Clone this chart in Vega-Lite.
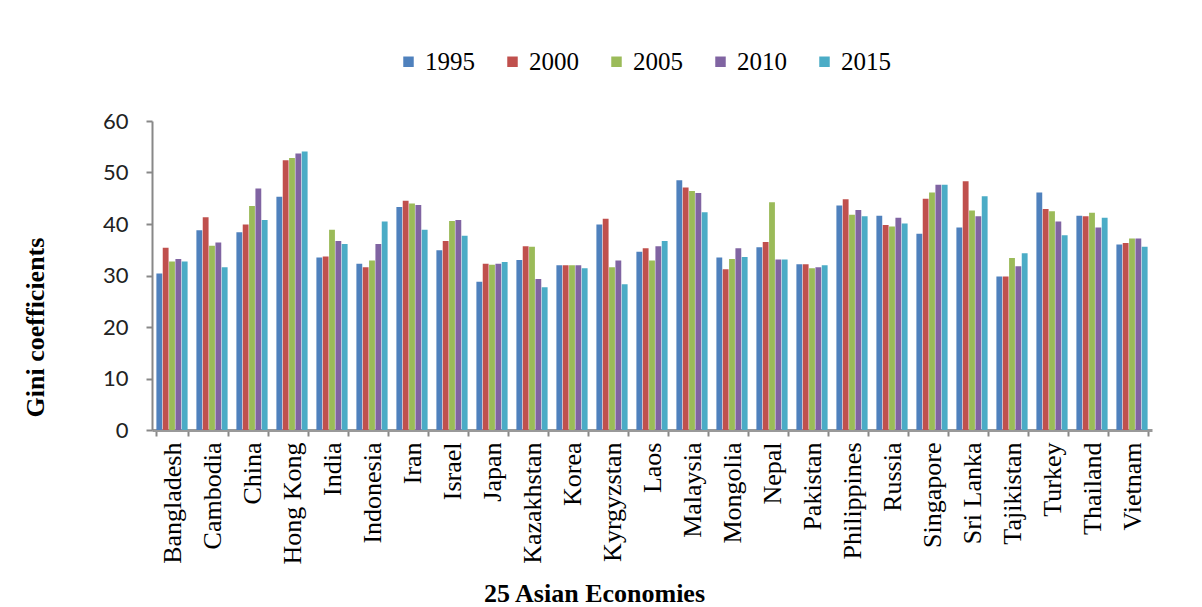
{
  "$schema": "https://vega.github.io/schema/vega-lite/v6.json",
  "width": 1000,
  "height": 309,
  "autosize": {"type": "none"},
  "padding": {"left": 152, "top": 121, "right": 50, "bottom": 177},
  "background": "white",
  "config": {"view": {"stroke": null}},
  "data": {"values": [
    {"country":"Bangladesh","year":"1995","gini":30.4},{"country":"Bangladesh","year":"2000","gini":35.4},{"country":"Bangladesh","year":"2005","gini":32.7},{"country":"Bangladesh","year":"2010","gini":33.2},{"country":"Bangladesh","year":"2015","gini":32.7},
    {"country":"Cambodia","year":"1995","gini":38.8},{"country":"Cambodia","year":"2000","gini":41.3},{"country":"Cambodia","year":"2005","gini":35.8},{"country":"Cambodia","year":"2010","gini":36.4},{"country":"Cambodia","year":"2015","gini":31.6},
    {"country":"China","year":"1995","gini":38.4},{"country":"China","year":"2000","gini":39.9},{"country":"China","year":"2005","gini":43.5},{"country":"China","year":"2010","gini":46.9},{"country":"China","year":"2015","gini":40.8},
    {"country":"Hong Kong","year":"1995","gini":45.3},{"country":"Hong Kong","year":"2000","gini":52.4},{"country":"Hong Kong","year":"2005","gini":52.8},{"country":"Hong Kong","year":"2010","gini":53.7},{"country":"Hong Kong","year":"2015","gini":54.1},
    {"country":"India","year":"1995","gini":33.5},{"country":"India","year":"2000","gini":33.7},{"country":"India","year":"2005","gini":38.9},{"country":"India","year":"2010","gini":36.7},{"country":"India","year":"2015","gini":36.1},
    {"country":"Indonesia","year":"1995","gini":32.3},{"country":"Indonesia","year":"2000","gini":31.6},{"country":"Indonesia","year":"2005","gini":32.9},{"country":"Indonesia","year":"2010","gini":36.1},{"country":"Indonesia","year":"2015","gini":40.5},
    {"country":"Iran","year":"1995","gini":43.3},{"country":"Iran","year":"2000","gini":44.5},{"country":"Iran","year":"2005","gini":44.0},{"country":"Iran","year":"2010","gini":43.7},{"country":"Iran","year":"2015","gini":38.9},
    {"country":"Israel","year":"1995","gini":34.9},{"country":"Israel","year":"2000","gini":36.7},{"country":"Israel","year":"2005","gini":40.6},{"country":"Israel","year":"2010","gini":40.8},{"country":"Israel","year":"2015","gini":37.7},
    {"country":"Japan","year":"1995","gini":28.8},{"country":"Japan","year":"2000","gini":32.3},{"country":"Japan","year":"2005","gini":32.1},{"country":"Japan","year":"2010","gini":32.3},{"country":"Japan","year":"2015","gini":32.6},
    {"country":"Kazakhstan","year":"1995","gini":33.0},{"country":"Kazakhstan","year":"2000","gini":35.7},{"country":"Kazakhstan","year":"2005","gini":35.6},{"country":"Kazakhstan","year":"2010","gini":29.3},{"country":"Kazakhstan","year":"2015","gini":27.7},
    {"country":"Korea","year":"1995","gini":32.0},{"country":"Korea","year":"2000","gini":32.0},{"country":"Korea","year":"2005","gini":32.0},{"country":"Korea","year":"2010","gini":32.0},{"country":"Korea","year":"2015","gini":31.4},
    {"country":"Kyrgyzstan","year":"1995","gini":39.9},{"country":"Kyrgyzstan","year":"2000","gini":41.0},{"country":"Kyrgyzstan","year":"2005","gini":31.6},{"country":"Kyrgyzstan","year":"2010","gini":32.9},{"country":"Kyrgyzstan","year":"2015","gini":28.3},
    {"country":"Laos","year":"1995","gini":34.6},{"country":"Laos","year":"2000","gini":35.3},{"country":"Laos","year":"2005","gini":32.9},{"country":"Laos","year":"2010","gini":35.7},{"country":"Laos","year":"2015","gini":36.7},
    {"country":"Malaysia","year":"1995","gini":48.5},{"country":"Malaysia","year":"2000","gini":47.1},{"country":"Malaysia","year":"2005","gini":46.4},{"country":"Malaysia","year":"2010","gini":46.0},{"country":"Malaysia","year":"2015","gini":42.3},
    {"country":"Mongolia","year":"1995","gini":33.5},{"country":"Mongolia","year":"2000","gini":31.2},{"country":"Mongolia","year":"2005","gini":33.2},{"country":"Mongolia","year":"2010","gini":35.3},{"country":"Mongolia","year":"2015","gini":33.6},
    {"country":"Nepal","year":"1995","gini":35.5},{"country":"Nepal","year":"2000","gini":36.5},{"country":"Nepal","year":"2005","gini":44.2},{"country":"Nepal","year":"2010","gini":33.1},{"country":"Nepal","year":"2015","gini":33.1},
    {"country":"Pakistan","year":"1995","gini":32.2},{"country":"Pakistan","year":"2000","gini":32.2},{"country":"Pakistan","year":"2005","gini":31.4},{"country":"Pakistan","year":"2010","gini":31.6},{"country":"Pakistan","year":"2015","gini":32.0},
    {"country":"Philippines","year":"1995","gini":43.6},{"country":"Philippines","year":"2000","gini":44.8},{"country":"Philippines","year":"2005","gini":41.8},{"country":"Philippines","year":"2010","gini":42.7},{"country":"Philippines","year":"2015","gini":41.5},
    {"country":"Russia","year":"1995","gini":41.6},{"country":"Russia","year":"2000","gini":39.8},{"country":"Russia","year":"2005","gini":39.5},{"country":"Russia","year":"2010","gini":41.2},{"country":"Russia","year":"2015","gini":40.1},
    {"country":"Singapore","year":"1995","gini":38.1},{"country":"Singapore","year":"2000","gini":44.9},{"country":"Singapore","year":"2005","gini":46.1},{"country":"Singapore","year":"2010","gini":47.6},{"country":"Singapore","year":"2015","gini":47.6},
    {"country":"Sri Lanka","year":"1995","gini":39.3},{"country":"Sri Lanka","year":"2000","gini":48.3},{"country":"Sri Lanka","year":"2005","gini":42.6},{"country":"Sri Lanka","year":"2010","gini":41.5},{"country":"Sri Lanka","year":"2015","gini":45.4},
    {"country":"Tajikistan","year":"1995","gini":29.8},{"country":"Tajikistan","year":"2000","gini":29.8},{"country":"Tajikistan","year":"2005","gini":33.4},{"country":"Tajikistan","year":"2010","gini":31.8},{"country":"Tajikistan","year":"2015","gini":34.3},
    {"country":"Turkey","year":"1995","gini":46.1},{"country":"Turkey","year":"2000","gini":42.9},{"country":"Turkey","year":"2005","gini":42.5},{"country":"Turkey","year":"2010","gini":40.5},{"country":"Turkey","year":"2015","gini":37.8},
    {"country":"Thailand","year":"1995","gini":41.6},{"country":"Thailand","year":"2000","gini":41.5},{"country":"Thailand","year":"2005","gini":42.2},{"country":"Thailand","year":"2010","gini":39.3},{"country":"Thailand","year":"2015","gini":41.2},
    {"country":"Vietnam","year":"1995","gini":36.0},{"country":"Vietnam","year":"2000","gini":36.3},{"country":"Vietnam","year":"2005","gini":37.2},{"country":"Vietnam","year":"2010","gini":37.2},{"country":"Vietnam","year":"2015","gini":35.6}
  ]},
  "mark": {"type": "bar"},
  "encoding": {
    "x": {
      "field": "country", "type": "nominal", "sort": null,
      "scale": {"paddingInner": 0.22, "paddingOuter": 0.11},
      "axis": {
        "title": "25 Asian Economies",
        "titleFont": "Liberation Serif", "titleFontSize": 26, "titleFontWeight": "bold", "titleColor": "black",
        "titleX": 442, "titleY": 163, "titleAlign": "center", "titleBaseline": "middle", "titleAnchor": null,
        "labelAngle": -90, "labelFont": "Liberation Serif", "labelFontSize": 26, "labelColor": "black",
        "labelPadding": 6, "tickBand": "extent", "tickSize": 6, "tickColor": "#888888", "tickWidth": 2,
        "domainColor": "#999999", "domainWidth": 3, "grid": false
      }
    },
    "xOffset": {"field": "year", "type": "nominal", "scale": {"paddingInner": 0.08}},
    "y": {
      "field": "gini", "type": "quantitative",
      "scale": {"domain": [0, 60], "nice": false},
      "axis": {
        "title": "Gini  coefficients",
        "titleFont": "Liberation Serif", "titleFontSize": 26, "titleFontWeight": "bold", "titleColor": "black",
        "titleX": -117, "titleY": 206, "titleAngle": -90, "titleAlign": "center", "titleBaseline": "middle",
        "values": [0, 10, 20, 30, 40, 50, 60],
        "labelFont": "Lato", "labelFontSize": 22, "labelColor": "#222222", "labelPadding": 18,
        "tickSize": 6, "tickColor": "#888888", "tickWidth": 2,
        "domainColor": "#888888", "domainWidth": 2, "grid": false
      }
    },
    "color": {
      "field": "year", "type": "nominal",
      "scale": {"domain": ["1995", "2000", "2005", "2010", "2015"], "range": ["#4F81BD", "#C0504D", "#9BBB59", "#8064A2", "#4BACC6"]},
      "legend": {
        "title": null, "orient": "none", "direction": "horizontal",
        "legendX": 244, "legendY": -72,
        "symbolType": "square", "symbolSize": 110, "symbolStrokeWidth": 0,
        "labelFont": "Liberation Serif", "labelFontSize": 25, "labelColor": "black",
        "labelOffset": 4, "columnPadding": 25
      }
    }
  }
}
